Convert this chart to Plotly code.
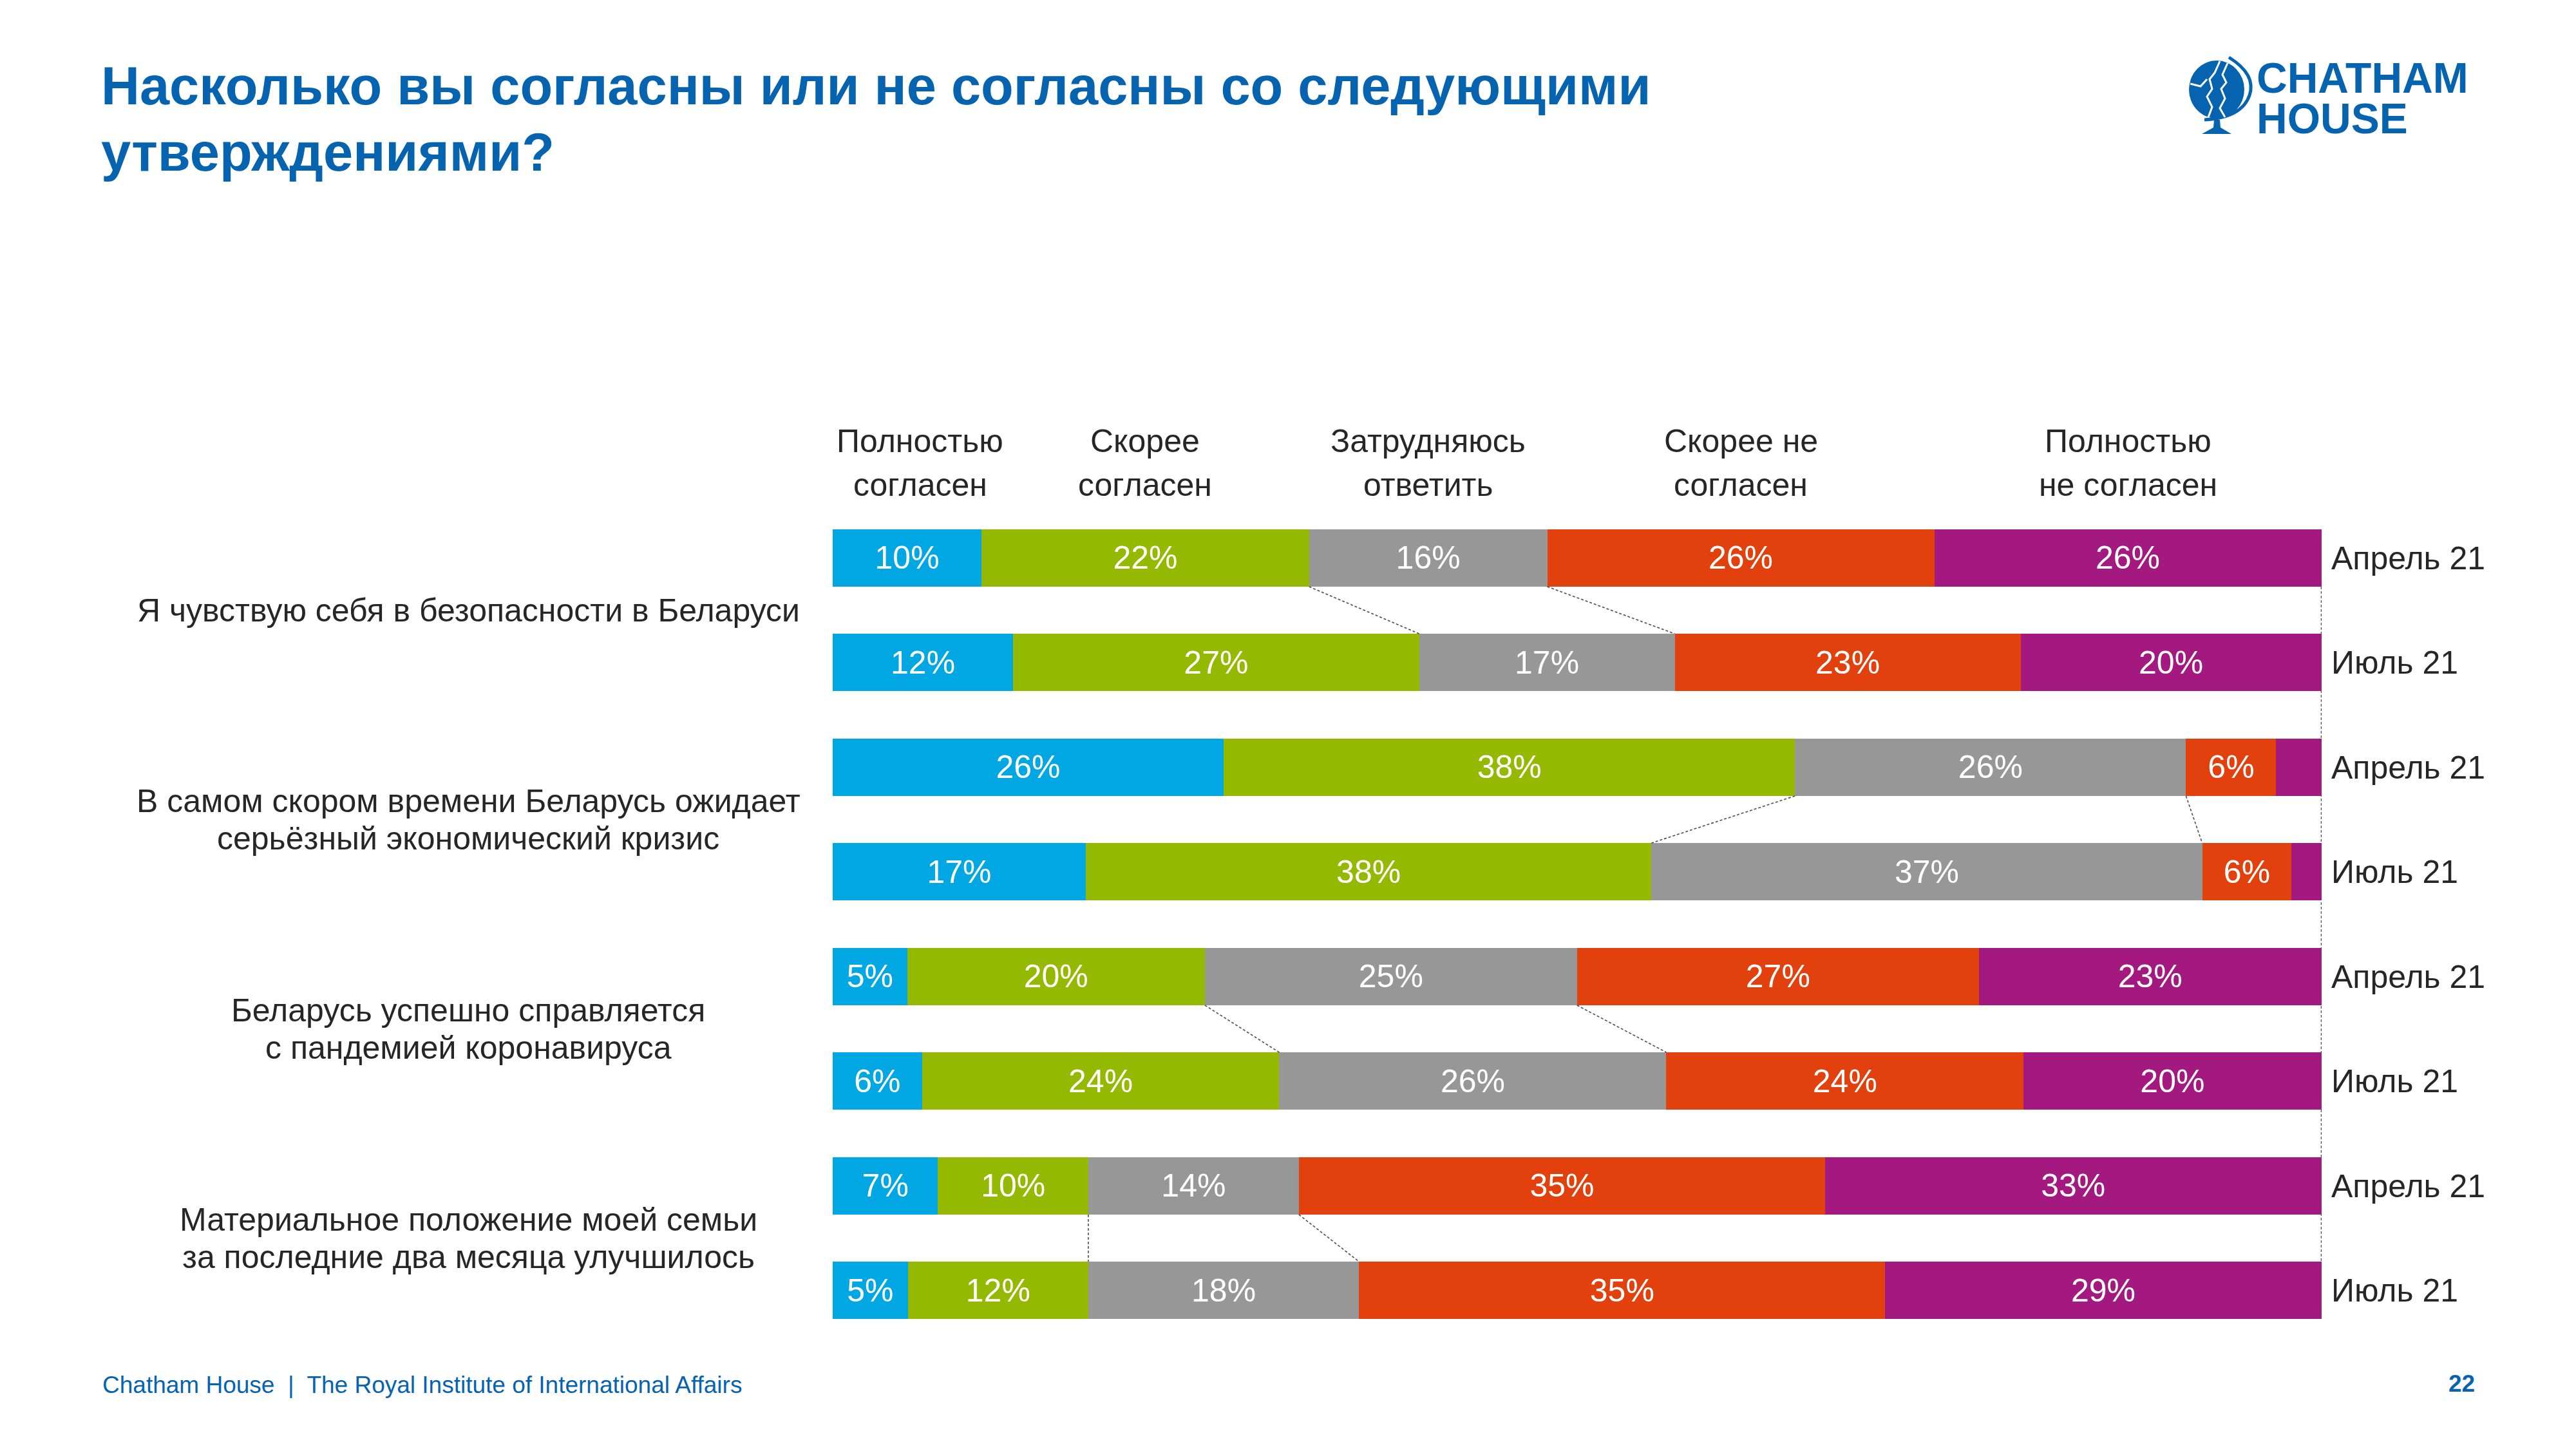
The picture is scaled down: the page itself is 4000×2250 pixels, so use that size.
import plotly.graph_objects as go

# ---------------- data ----------------
statements = [
    "Я чувствую себя в безопасности в Беларуси",
    "В самом скором времени Беларусь ожидает<br>серьёзный экономический кризис",
    "Беларусь успешно справляется<br>с пандемией коронавируса",
    "Материальное положение моей семьи<br>за последние два месяца улучшилось",
]
periods = ["Апрель 21", "Июль 21"]
responses = [
    "Полностью<br>согласен",
    "Скорее<br>согласен",
    "Затрудняюсь<br>ответить",
    "Скорее не<br>согласен",
    "Полностью<br>не согласен",
]

# rows: statement1 Apr, statement1 Jul, statement2 Apr, ...
full_agree   = [10, 12, 26, 17, 5, 6, 7, 5]
rather_agree = [22, 27, 38, 38, 20, 24, 10, 12]
hard_to_say  = [16, 17, 26, 37, 25, 26, 14, 18]
rather_dis   = [26, 23, 6, 6, 27, 24, 35, 35]
full_dis     = [26, 20, 3, 2, 23, 20, 33, 29]

title_lines = ["Насколько вы согласны или не согласны со следующими", "утверждениями?"]
footer = "Chatham House  |  The Royal Institute of International Affairs"
page_no = "22"

# ---------------- style ----------------
FONT = "Liberation Sans, Arial, sans-serif"
TXT = "#262626"
BLUE_BRAND = "#0563AF"
colors = ["#00A7E3", "#95B800", "#979797", "#E2400C", "#A3197F"]

OFF = 8                      # page body margin
W_FIG, H_FIG = 4000 - 2 * OFF, 2250 - 2 * OFF
L, R, T, B = 1293, 3605, 785, 2085   # plot area in page pixels
PW, PH = R - L, B - T
BARGAP = 0.45
HW = (1 - BARGAP) / 2
HEADER_XSHIFT = [20, 0, 0, 0, 0]


def px(x):
    return (x - L) / PW


def py(y):
    return (B - y) / PH


series = [full_agree, rather_agree, hard_to_say, rather_dis, full_dis]
n_rows = len(full_agree)
rows = list(range(n_rows))

fig = go.Figure()
for name, vals, col in zip(responses, series, colors):
    fig.add_trace(go.Bar(
        x=vals, y=rows, orientation="h", name=name.replace("<br>", " "),
        marker=dict(color=col, line=dict(width=0)),
        text=[f"{v}%" if v >= 5 else "" for v in vals],
        textposition="inside", insidetextanchor="middle", textangle=0,
        constraintext="none", cliponaxis=False,
        textfont=dict(family=FONT, size=50, color="white"),
        hoverinfo="skip",
    ))

# normalized cumulative boundaries
cum = []
for r in rows:
    tot = sum(s[r] for s in series)
    acc, c = 0, []
    for s in series:
        acc += s[r]
        c.append(acc * 100 / tot)
    cum.append(c)

shapes = []
line_style = dict(color="#4d4d4d", width=1.6, dash="4px,3px")
for g in range(len(statements)):
    a, j = 2 * g, 2 * g + 1
    for k in (1, 2):
        shapes.append(dict(type="line", xref="x", yref="y",
                           x0=cum[a][k], y0=a + HW, x1=cum[j][k], y1=j - HW,
                           line=line_style, layer="above"))
shapes.append(dict(type="line", xref="x", yref="y", x0=100, x1=100,
                   y0=0 + HW, y1=n_rows - 1 - HW, line=line_style, layer="below"))

# logo globe
shapes.append(dict(type="circle", xref="paper", yref="paper",
                   x0=px(3399), x1=px(3485), y0=py(184), y1=py(94),
                   fillcolor=BLUE_BRAND, line=dict(width=0)))


def pth(pts, close=False):
    s = "M {:.5f},{:.5f}".format(px(pts[0][0]), py(pts[0][1]))
    for p in pts[1:]:
        s += " L {:.5f},{:.5f}".format(px(p[0]), py(p[1]))
    return s + (" Z" if close else "")


ring = "M {:.5f},{:.5f} Q {:.5f},{:.5f} {:.5f},{:.5f} Q {:.5f},{:.5f} {:.5f},{:.5f}".format(
    px(3461), py(89), px(3504), py(116), px(3493), py(148), px(3481), py(183), px(3423), py(186))
shapes.append(dict(type="path", xref="paper", yref="paper", path=ring,
                   line=dict(color=BLUE_BRAND, width=5)))
shapes.append(dict(type="path", xref="paper", yref="paper",
                   path=pth([(3438, 186), (3447, 186), (3448, 198), (3465, 208), (3419, 208), (3437, 198)], close=True),
                   fillcolor=BLUE_BRAND, line=dict(width=0)))
shapes.append(dict(type="path", xref="paper", yref="paper",
                   path=pth([(3447, 95), (3439, 113), (3431, 123), (3435, 138), (3427, 150), (3435, 166), (3429, 182)]),
                   line=dict(color="white", width=3)))
shapes.append(dict(type="path", xref="paper", yref="paper",
                   path=pth([(3459, 98), (3451, 116), (3457, 128), (3449, 138), (3455, 153), (3447, 168), (3455, 182)]),
                   line=dict(color="white", width=3)))
shapes.append(dict(type="path", xref="paper", yref="paper",
                   path=pth([(3401, 130), (3417, 134), (3427, 123)]),
                   line=dict(color="white", width=3)))

annotations = []
for i, t in enumerate(title_lines):
    annotations.append(dict(xref="paper", yref="paper", x=px(155), y=py(133 + i * 104),
                            xanchor="left", yanchor="middle", showarrow=False, text=t,
                            font=dict(family=FONT, size=83, color=BLUE_BRAND, weight="bold")))
for t, yy in (("CHATHAM", 121), ("HOUSE", 184)):
    annotations.append(dict(xref="paper", yref="paper", x=px(3502), y=py(yy),
                            xanchor="left", yanchor="middle", showarrow=False, text=t,
                            font=dict(family=FONT, size=66, color=BLUE_BRAND, weight="bold")))
# column headers centred on first bar's segments
for k, lab in enumerate(responses):
    prev = cum[0][k - 1] if k > 0 else 0
    mid = (prev + cum[0][k]) / 2
    for i, p in enumerate(lab.split("<br>")):
        annotations.append(dict(xref="x", yref="paper", x=mid, y=py(719),
                                xshift=HEADER_XSHIFT[k],
                                yshift=34 * (1 if i == 0 else -1), showarrow=False, text=p,
                                xanchor="center", yanchor="middle",
                                font=dict(family=FONT, size=50, color=TXT)))
for g, st in enumerate(statements):
    parts = st.split("<br>")
    n = len(parts)
    for i, p in enumerate(parts):
        shift = (n - 1) / 2 * 58 - i * 58
        annotations.append(dict(xref="paper", yref="y", x=px(727), y=2 * g + 0.5,
                                yshift=shift, showarrow=False, text=p,
                                xanchor="center", yanchor="middle",
                                font=dict(family=FONT, size=50, color=TXT)))
annotations.append(dict(xref="paper", yref="paper", x=px(157), y=py(2150), xanchor="left",
                        yanchor="middle", showarrow=False, text=footer,
                        font=dict(family=FONT, size=37, color=BLUE_BRAND)))
annotations.append(dict(xref="paper", yref="paper", x=px(3822), y=py(2148), xanchor="center",
                        yanchor="middle", showarrow=False, text=page_no,
                        font=dict(family=FONT, size=37, color=BLUE_BRAND, weight="bold")))

fig.update_layout(
    width=W_FIG, height=H_FIG, autosize=False,
    margin=dict(l=L - OFF, r=OFF + W_FIG - R, t=T - OFF, b=OFF + H_FIG - B, pad=0),
    paper_bgcolor="white", plot_bgcolor="white",
    barmode="stack", barnorm="percent", bargap=BARGAP,
    showlegend=False,
    font=dict(family=FONT, color=TXT),
    xaxis=dict(visible=False, range=[0, 100.02], automargin=False, fixedrange=True),
    yaxis=dict(range=[n_rows - 0.5, -0.5], side="right", tickmode="array",
               tickvals=rows, ticktext=periods * len(statements),
               ticks="", showgrid=False, zeroline=False, showline=False,
               ticklabelstandoff=14, automargin=False,
               tickfont=dict(family=FONT, size=50, color=TXT)),
    shapes=shapes, annotations=annotations,
)

fig.write_html("out.html")
